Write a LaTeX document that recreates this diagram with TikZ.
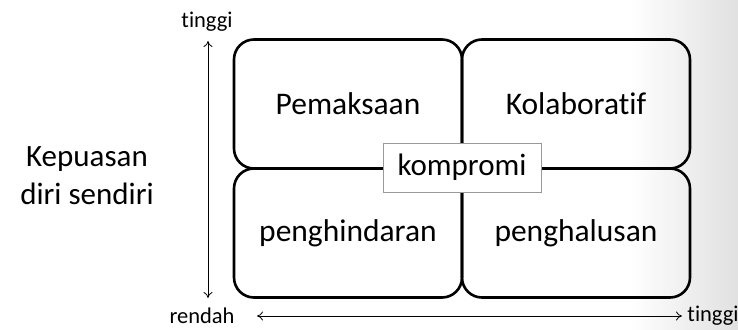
\documentclass[tikz,border=0pt]{standalone}
\usepackage{fontspec}
\setmainfont[Ligatures=NoCommon]{Carlito}
\usetikzlibrary{arrows.meta}
\begin{document}
\begin{tikzpicture}[x=1pt,y=-1pt,
  quad/.style={draw=black, line width=2.6pt, rounded corners=20pt, minimum width=228pt, minimum height=129pt, inner sep=0pt, font=\fontsize{31.5}{36}\selectfont},
  midbox/.style={draw=black!40, line width=0.9pt, fill=white, minimum width=158pt, minimum height=49pt, inner sep=0pt, font=\fontsize{31}{36}\selectfont},
  axislbl/.style={font=\fontsize{22.5}{26}\selectfont, inner sep=0pt},
  axis/.style={line width=0.8pt, {To[length=6pt,width=9pt]}-{To[length=6pt,width=9pt]}}]
\useasboundingbox (0,0) rectangle (738,329);
\shade[left color=white, right color=black!12] (630,0) rectangle (738,329);
\node[quad] (pm) at (348,104) {Pemaksaan};
\node[quad] (kl) at (576,104) {Kolaboratif};
\node[quad] (ph) at (348,233) {penghindaran};
\node[quad] (pl) at (576,233) {penghalusan};
\node[midbox] (km) at (462,167.5) {kompromi};
\node[axislbl] (ytop) at (207,22) {tinggi};
\node[axislbl] (rd) at (202,316) {rendah};
\node[axislbl] (xtop) at (713,316) {tinggi};
\coordinate (ya) at (208,41);
\coordinate (yb) at (208,298);
\coordinate (xa) at (257,316);
\coordinate (xb) at (682,316);
\draw[axis] (ya) -- (yb);
\draw[axis] (xa) -- (xb);
\node[align=center, font=\fontsize{31}{38}\selectfont, inner sep=0pt] (kd) at (87,176) {Kepuasan\\diri sendiri};
\end{tikzpicture}
\end{document}
